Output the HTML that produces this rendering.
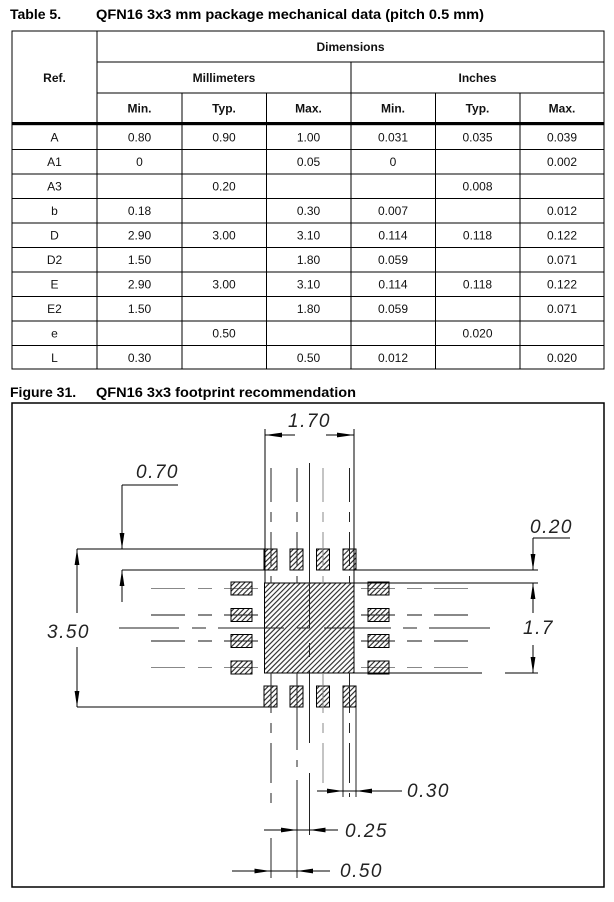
<!DOCTYPE html>
<html><head><meta charset="utf-8"><style>
html,body{margin:0;padding:0;background:#fff;}
svg{display:block;font-family:"Liberation Sans",Arial,sans-serif;}
</style></head><body>
<svg width="614" height="902" viewBox="0 0 614 902" xmlns="http://www.w3.org/2000/svg">
<defs>
<pattern id="h" patternUnits="userSpaceOnUse" width="3.6" height="3.6" patternTransform="rotate(45)">
<line x1="1.8" y1="-1" x2="1.8" y2="5" stroke="#222" stroke-width="1.1"/>
</pattern>
</defs>
<rect width="614" height="902" fill="#fff"/>

<!-- Titles -->
<text x="10" y="19" font-weight="bold" font-size="14">Table 5.</text>
<text x="96" y="19" font-weight="bold" font-size="14" textLength="388" lengthAdjust="spacingAndGlyphs">QFN16 3x3 mm package mechanical data (pitch 0.5 mm)</text>
<text x="10" y="397" font-weight="bold" font-size="14">Figure 31.</text>
<text x="96" y="397" font-weight="bold" font-size="14" textLength="260" lengthAdjust="spacingAndGlyphs">QFN16 3x3 footprint recommendation</text>

<!-- Table grid -->
<g stroke="#000" stroke-width="1" fill="none">
<rect x="12" y="31" width="592" height="338"/>
<line x1="97" y1="31" x2="97" y2="369"/>
<line x1="97" y1="62" x2="604" y2="62"/>
<line x1="97" y1="93" x2="604" y2="93"/>
<line x1="351" y1="62" x2="351" y2="369"/>
<line x1="182" y1="93" x2="182" y2="369"/>
<line x1="266.5" y1="93" x2="266.5" y2="369"/>
<line x1="435.5" y1="93" x2="435.5" y2="369"/>
<line x1="520" y1="93" x2="520" y2="369"/>
<line x1="12" y1="149.5" x2="604" y2="149.5"/>
<line x1="12" y1="174" x2="604" y2="174"/>
<line x1="12" y1="198.5" x2="604" y2="198.5"/>
<line x1="12" y1="223" x2="604" y2="223"/>
<line x1="12" y1="247.5" x2="604" y2="247.5"/>
<line x1="12" y1="272" x2="604" y2="272"/>
<line x1="12" y1="296.5" x2="604" y2="296.5"/>
<line x1="12" y1="321" x2="604" y2="321"/>
<line x1="12" y1="345.5" x2="604" y2="345.5"/>
</g>
<rect x="12" y="122" width="592" height="3.2" fill="#000"/>

<!-- Table header text -->
<g font-weight="bold" font-size="12" text-anchor="middle" fill="#111">
<text x="350.5" y="51">Dimensions</text>
<text x="54.5" y="82">Ref.</text>
<text x="224" y="82">Millimeters</text>
<text x="477.5" y="82">Inches</text>
<text x="139.5" y="112.5">Min.</text>
<text x="224" y="112.5">Typ.</text>
<text x="308.5" y="112.5">Max.</text>
<text x="393" y="112.5">Min.</text>
<text x="477.5" y="112.5">Typ.</text>
<text x="562" y="112.5">Max.</text>
</g>

<!-- Table body text -->
<g font-size="12" text-anchor="middle" fill="#111">
<text x="54.5" y="141.5">A</text><text x="139.5" y="141.5">0.80</text><text x="224" y="141.5">0.90</text><text x="308.5" y="141.5">1.00</text><text x="393" y="141.5">0.031</text><text x="477.5" y="141.5">0.035</text><text x="562" y="141.5">0.039</text>
<text x="54.5" y="166">A1</text><text x="139.5" y="166">0</text><text x="308.5" y="166">0.05</text><text x="393" y="166">0</text><text x="562" y="166">0.002</text>
<text x="54.5" y="190.5">A3</text><text x="224" y="190.5">0.20</text><text x="477.5" y="190.5">0.008</text>
<text x="54.5" y="215">b</text><text x="139.5" y="215">0.18</text><text x="308.5" y="215">0.30</text><text x="393" y="215">0.007</text><text x="562" y="215">0.012</text>
<text x="54.5" y="239.5">D</text><text x="139.5" y="239.5">2.90</text><text x="224" y="239.5">3.00</text><text x="308.5" y="239.5">3.10</text><text x="393" y="239.5">0.114</text><text x="477.5" y="239.5">0.118</text><text x="562" y="239.5">0.122</text>
<text x="54.5" y="264">D2</text><text x="139.5" y="264">1.50</text><text x="308.5" y="264">1.80</text><text x="393" y="264">0.059</text><text x="562" y="264">0.071</text>
<text x="54.5" y="288.5">E</text><text x="139.5" y="288.5">2.90</text><text x="224" y="288.5">3.00</text><text x="308.5" y="288.5">3.10</text><text x="393" y="288.5">0.114</text><text x="477.5" y="288.5">0.118</text><text x="562" y="288.5">0.122</text>
<text x="54.5" y="313">E2</text><text x="139.5" y="313">1.50</text><text x="308.5" y="313">1.80</text><text x="393" y="313">0.059</text><text x="562" y="313">0.071</text>
<text x="54.5" y="337.5">e</text><text x="224" y="337.5">0.50</text><text x="477.5" y="337.5">0.020</text>
<text x="54.5" y="362">L</text><text x="139.5" y="362">0.30</text><text x="308.5" y="362">0.50</text><text x="393" y="362">0.012</text><text x="562" y="362">0.020</text>
</g>

<!-- Figure box -->
<rect x="12" y="403" width="592" height="484" fill="none" stroke="#000" stroke-width="1.5"/>

<!-- Dashed pad-row lines (left/right) -->
<g stroke-width="1">
<g stroke="#888">
<line x1="151" y1="588.5" x2="185" y2="588.5"/><line x1="198" y1="588.5" x2="212" y2="588.5"/><line x1="224" y1="588.5" x2="258" y2="588.5"/>
<line x1="151" y1="667.5" x2="185" y2="667.5"/><line x1="198" y1="667.5" x2="212" y2="667.5"/><line x1="224" y1="667.5" x2="258" y2="667.5"/>
<line x1="361" y1="588.5" x2="395" y2="588.5"/><line x1="407" y1="588.5" x2="422" y2="588.5"/><line x1="434" y1="588.5" x2="468" y2="588.5"/>
<line x1="361" y1="667.5" x2="395" y2="667.5"/><line x1="407" y1="667.5" x2="422" y2="667.5"/><line x1="434" y1="667.5" x2="468" y2="667.5"/>
</g>
<g stroke="#111">
<line x1="151" y1="615" x2="185" y2="615"/><line x1="198" y1="615" x2="212" y2="615"/><line x1="224" y1="615" x2="258" y2="615"/>
<line x1="151" y1="641" x2="185" y2="641"/><line x1="198" y1="641" x2="212" y2="641"/><line x1="224" y1="641" x2="258" y2="641"/>
<line x1="361" y1="615" x2="395" y2="615"/><line x1="407" y1="615" x2="422" y2="615"/><line x1="434" y1="615" x2="468" y2="615"/>
<line x1="361" y1="641" x2="395" y2="641"/><line x1="407" y1="641" x2="422" y2="641"/><line x1="434" y1="641" x2="468" y2="641"/>
</g>
</g>

<!-- Pads -->
<g stroke="#000" stroke-width="1" fill="url(#h)">
<rect x="264.5" y="583" width="89.5" height="90"/>
<rect x="264" y="549" width="13" height="21"/>
<rect x="290" y="549" width="13" height="21"/>
<rect x="316.5" y="549" width="13" height="21"/>
<rect x="343" y="549" width="13" height="21"/>
<rect x="264" y="686" width="13" height="21"/>
<rect x="290" y="686" width="13" height="21"/>
<rect x="316.5" y="686" width="13" height="21"/>
<rect x="343" y="686" width="13" height="21"/>
<rect x="231" y="582" width="21" height="13"/>
<rect x="231" y="608.5" width="21" height="13"/>
<rect x="231" y="634.5" width="21" height="13"/>
<rect x="231" y="661" width="21" height="13"/>
<rect x="368" y="582" width="21" height="13"/>
<rect x="368" y="608.5" width="21" height="13"/>
<rect x="368" y="634.5" width="21" height="13"/>
<rect x="368" y="661" width="21" height="13"/>
</g>

<!-- Center lines & dashed column lines -->
<g stroke-width="1" fill="none">
<g stroke="#222">
<line x1="119" y1="628" x2="179" y2="628"/><line x1="192" y1="628" x2="206" y2="628"/><line x1="218" y1="628" x2="284" y2="628"/><line x1="297" y1="628" x2="310" y2="628"/>
<line x1="324" y1="628" x2="391" y2="628"/><line x1="403" y1="628" x2="417" y2="628"/><line x1="429" y1="628" x2="490" y2="628"/>
<line x1="309.5" y1="463" x2="309.5" y2="628"/><line x1="309.5" y1="643" x2="309.5" y2="657"/><line x1="309.5" y1="670" x2="309.5" y2="743"/><line x1="309.5" y1="773" x2="309.5" y2="835"/>
<line x1="271" y1="468" x2="271" y2="583" stroke-dasharray="34,10,10,10"/>
<line x1="297" y1="468" x2="297" y2="583" stroke-dasharray="34,10,10,10"/>
<line x1="349.5" y1="468" x2="349.5" y2="583" stroke-dasharray="34,10,10,10"/>
<line x1="271" y1="673" x2="271" y2="803" stroke-dasharray="40,10,10,10"/>
<line x1="271" y1="838" x2="271" y2="878"/>
<line x1="297" y1="673" x2="297" y2="750"/><line x1="297" y1="760" x2="297" y2="767"/><line x1="297" y1="780" x2="297" y2="878"/>
<line x1="349.5" y1="673" x2="349.5" y2="797" stroke-dasharray="40,10,10,10"/>
<line x1="343" y1="707" x2="343" y2="797"/>
<line x1="356" y1="707" x2="356" y2="797"/>
</g>
<g stroke="#888">
<line x1="323" y1="468" x2="323" y2="583" stroke-dasharray="34,10,10,10"/>
<line x1="323" y1="673" x2="323" y2="788" stroke-dasharray="40,10,10,10"/>
</g>
</g>

<!-- Dimension & extension lines -->
<g stroke="#000" stroke-width="1" fill="none">
<line x1="265" y1="429" x2="265" y2="583"/>
<line x1="354" y1="429" x2="354" y2="583"/>
<line x1="265" y1="435" x2="295" y2="435"/><line x1="326" y1="435" x2="354" y2="435"/>
<line x1="77" y1="549" x2="264" y2="549"/>
<line x1="122" y1="570" x2="264" y2="570"/>
<line x1="356" y1="570" x2="538" y2="570"/>
<line x1="354" y1="583" x2="538" y2="583"/>
<line x1="354" y1="673" x2="482" y2="673"/><line x1="505" y1="673" x2="538" y2="673"/>
<line x1="77" y1="707" x2="264" y2="707"/>
<line x1="122" y1="485" x2="178" y2="485"/><line x1="122" y1="485" x2="122" y2="549"/>
<line x1="122" y1="570" x2="122" y2="602"/>
<line x1="77" y1="549" x2="77" y2="613"/><line x1="77" y1="647" x2="77" y2="707"/>
<line x1="533" y1="538" x2="570" y2="538"/><line x1="533" y1="538" x2="533" y2="570"/>
<line x1="533" y1="583" x2="533" y2="613"/><line x1="533" y1="645" x2="533" y2="673"/>
<line x1="317" y1="791" x2="402" y2="791"/>
<line x1="264" y1="830" x2="338" y2="830"/>
<line x1="232" y1="871" x2="330" y2="871"/>
</g>
<line x1="264.5" y1="549" x2="264.5" y2="570" stroke="#000" stroke-width="2"/>

<!-- Arrowheads -->
<g fill="#000">
<polygon points="265,435 282,432.6 282,437.4"/>
<polygon points="354,435 337,432.6 337,437.4"/>
<polygon points="122,549 119.6,533 124.4,533"/>
<polygon points="122,570 119.6,586 124.4,586"/>
<polygon points="77,549 74.6,565 79.4,565"/>
<polygon points="77,707 74.6,691 79.4,691"/>
<polygon points="533,570 530.6,554 535.4,554"/>
<polygon points="533,583 530.6,599 535.4,599"/>
<polygon points="533,673 530.6,657 535.4,657"/>
<polygon points="343,791 327,788.6 327,793.4"/>
<polygon points="356,791 372,788.6 372,793.4"/>
<polygon points="297,830 281,827.6 281,832.4"/>
<polygon points="309.5,830 325.5,827.6 325.5,832.4"/>
<polygon points="270.5,871 254.5,868.6 254.5,873.4"/>
<polygon points="297,871 313,868.6 313,873.4"/>
</g>

<!-- Dimension labels -->
<g font-style="italic" font-size="19" letter-spacing="1.5" fill="#222">
<text x="288" y="427">1.70</text>
<text x="136" y="478">0.70</text>
<text x="530" y="533">0.20</text>
<text x="47" y="638">3.50</text>
<text x="523" y="634">1.7</text>
<text x="407" y="797">0.30</text>
<text x="345" y="837">0.25</text>
<text x="340" y="877">0.50</text>
</g>
</svg>
</body></html>
